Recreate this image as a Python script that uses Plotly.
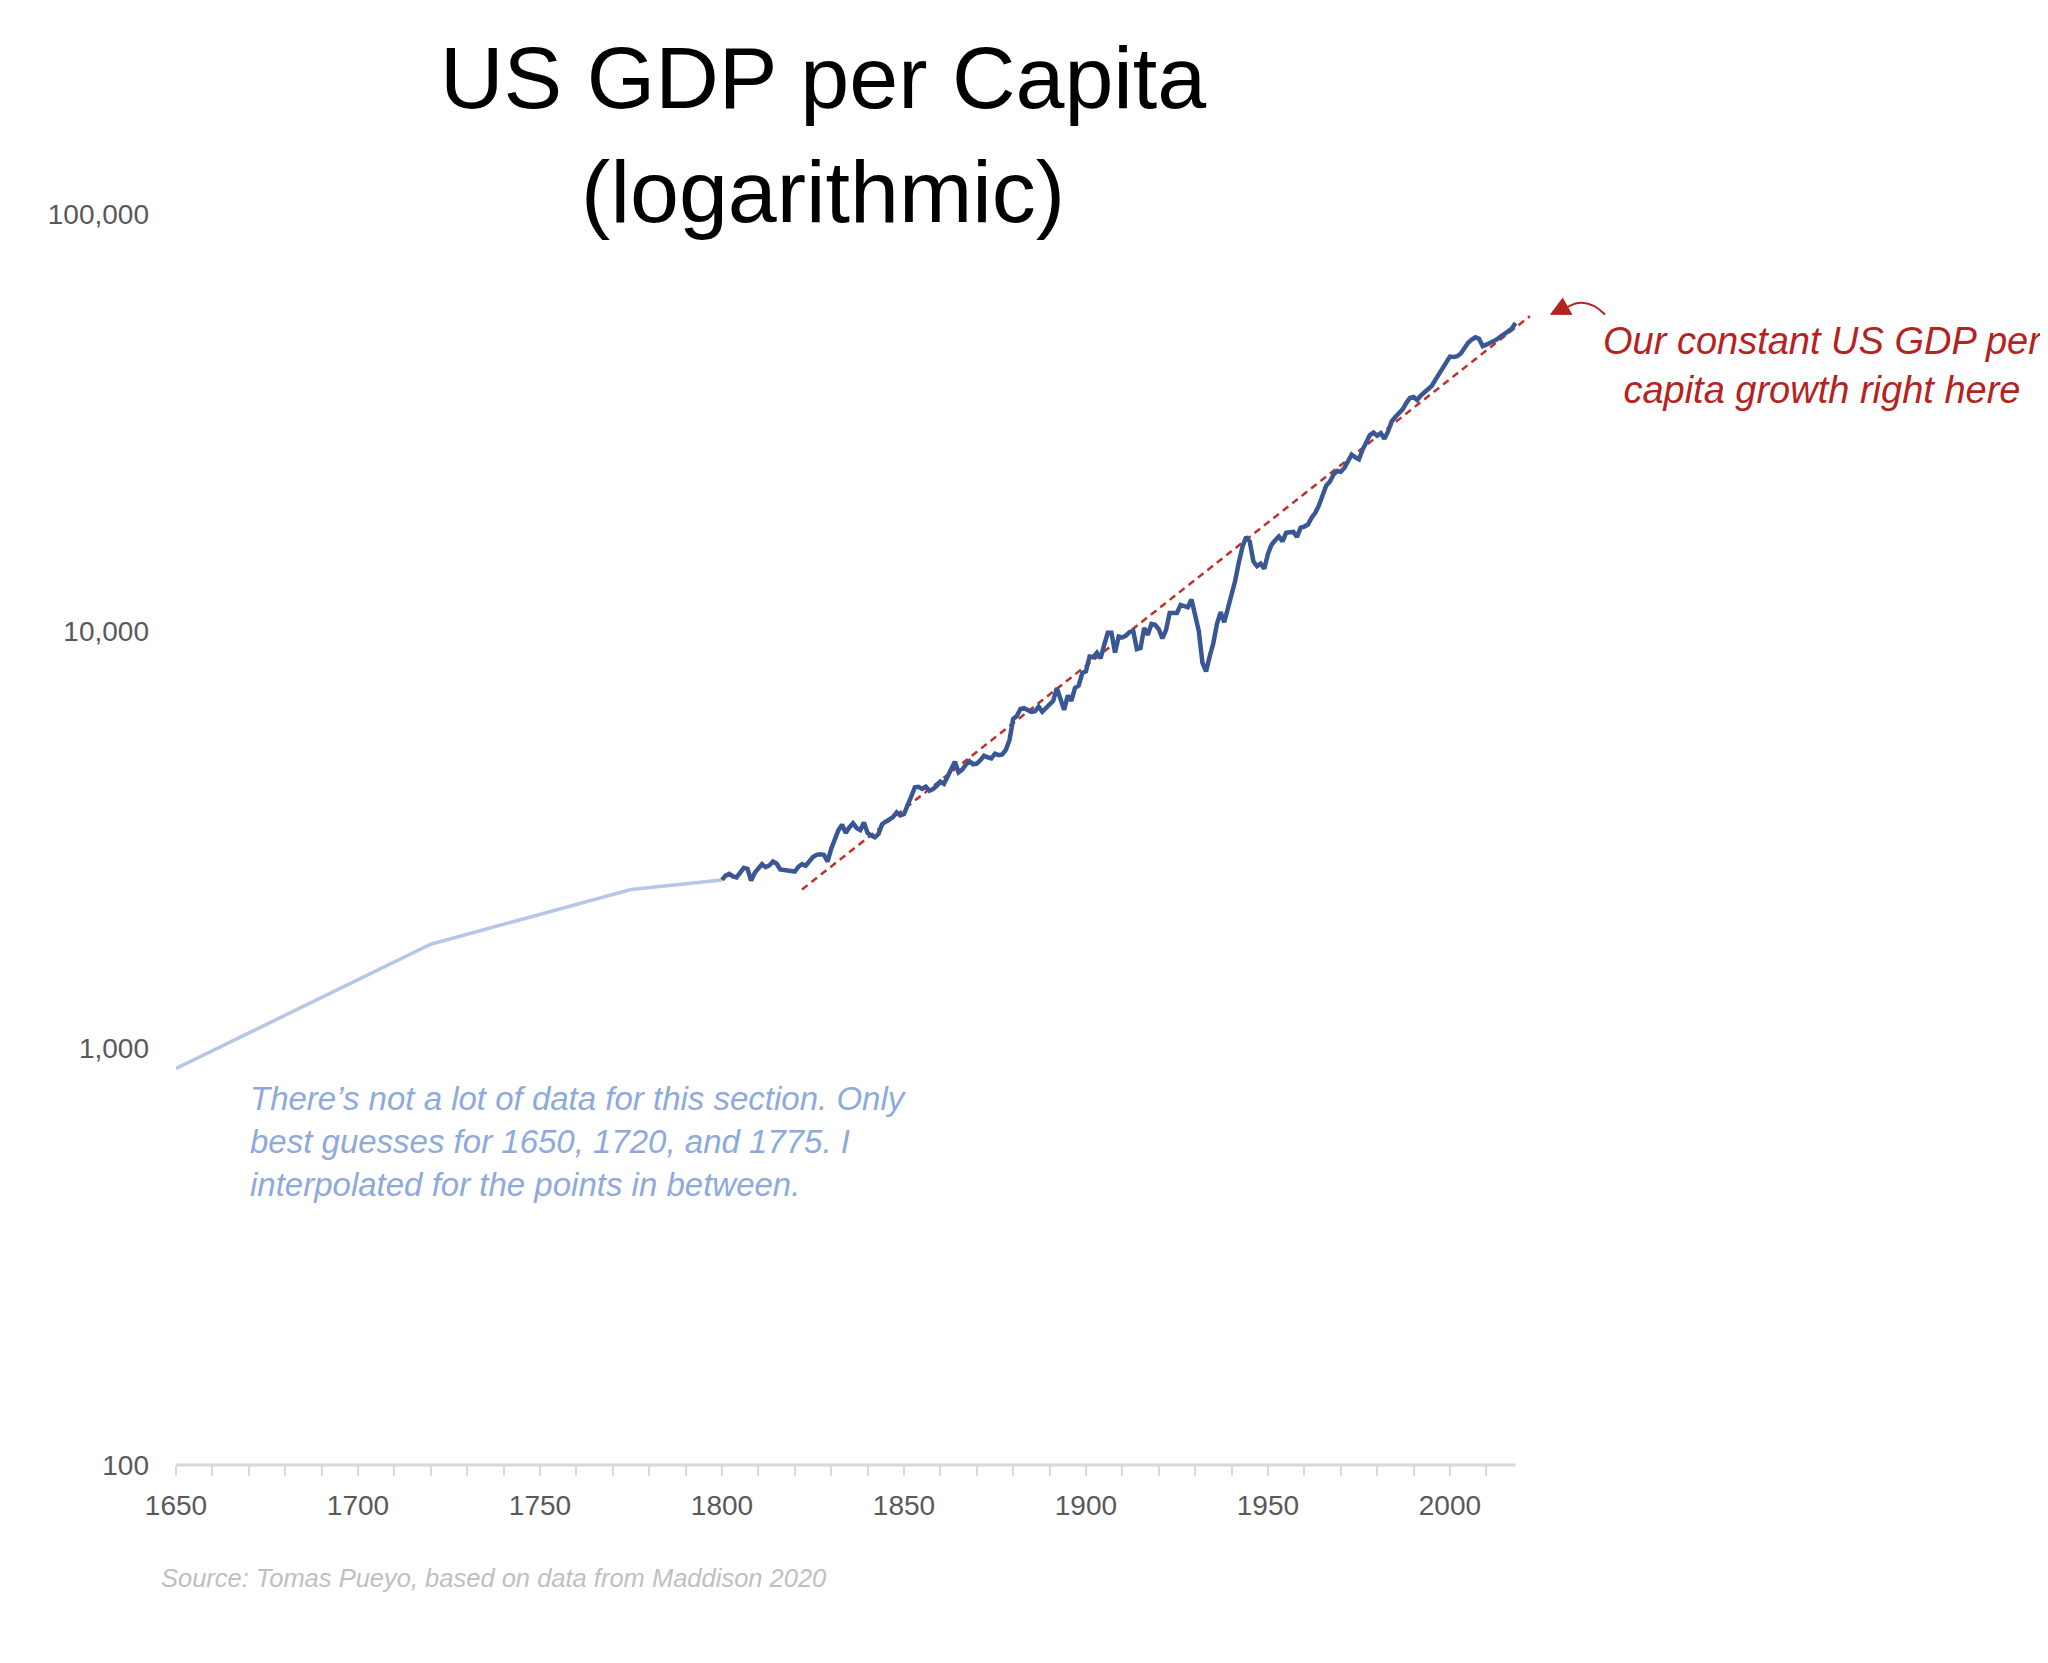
import plotly.graph_objects as go

# Frühe Schätzwerte (1650, 1720, 1775) plus Anschluss an 1800
early_years = [1650, 1720, 1775, 1800]
early_gdp = [893, 1774, 2399, 2530]

# Jährliche Werte 1800-2018
years = list(range(1800, 2019))
gdp = [
    2530, 2590, 2615, 2580, 2565, 2640, 2705, 2690, 2520, 2630,  # 1800
    2700, 2760, 2715, 2740, 2800, 2770, 2680, 2670, 2677, 2665,  # 1810
    2650, 2720, 2760, 2735, 2810, 2870, 2905, 2915, 2905, 2800,  # 1820
    3000, 3190, 3330, 3430, 3280, 3380, 3460, 3370, 3330, 3473,  # 1830
    3280, 3230, 3200, 3260, 3440, 3490, 3525, 3580, 3670, 3610,  # 1840
    3640, 3800, 4010, 4220, 4230, 4180, 4235, 4140, 4180, 4250,  # 1850
    4350, 4300, 4480, 4700, 4860, 4580, 4650, 4780, 4870, 4790,  # 1860
    4810, 4900, 5020, 4980, 4950, 5080, 5040, 5060, 5190, 5480,  # 1870
    6150, 6250, 6500, 6530, 6450, 6400, 6420, 6590, 6400, 6550,  # 1880
    6680, 6800, 7300, 6900, 6470, 7000, 6800, 7300, 7400, 7930,  # 1890
    8000, 8680, 8650, 8870, 8600, 9250, 9900, 9900, 8880, 9700,  # 1900
    9650, 9750, 9950, 10000, 9050, 9100, 10170, 9790, 10400, 10350,  # 1910
    10100, 9600, 10050, 11050, 11050, 11050, 11550, 11450, 11400, 11900,  # 1920
    10900, 10000, 8400, 8000, 8700, 9350, 10400, 11100, 10500, 11300,  # 1930
    12300, 13200, 14600, 15900, 16800, 16400, 14700, 14300, 14500, 14100,  # 1940
    15300, 16100, 16500, 16850, 16400, 17200, 17250, 17280, 16800, 17700,  # 1950
    17800, 18000, 18700, 19200, 20000, 21100, 22300, 22800, 23700, 24200,  # 1960
    24100, 24600, 25600, 26500, 26100, 25800, 27200, 28500, 29500, 29900,  # 1970
    29400, 29800, 28900, 30100, 31800, 32600, 33400, 34000, 35200, 36200,  # 1980
    36400, 35800, 36700, 37300, 38200, 38700, 40000, 41300, 42700, 44200,  # 1990
    45500, 45400, 45600, 46300, 47800, 49100, 50000, 50600, 50200, 48200,  # 2000
    48600, 49000, 49600, 50100, 50900, 51800, 52300, 53100, 54800,  # 2010
]

# Konstante Wachstumslinie (rot gestrichelt)
trend_years = [1822, 2022]
trend_gdp = [2400, 56900]

y_ticks = [100, 1000, 10000, 100000]
y_labels = ["100", "1,000", "10,000", "100,000"]
x_ticks = list(range(1650, 2020, 10))
x_labels = [str(y) if y % 50 == 0 else "" for y in x_ticks]

FONT = "Liberation Sans, Arial, sans-serif"
RED = "#b5231f"

fig = go.Figure()

fig.add_trace(go.Scatter(
    x=early_years, y=early_gdp, mode="lines",
    line=dict(color="#b4c7e7", width=3.5), showlegend=False, hoverinfo="skip"
))
fig.add_trace(go.Scatter(
    x=trend_years, y=trend_gdp, mode="lines",
    line=dict(color="#c0302a", width=2.5, dash="7px,5px"), showlegend=False, hoverinfo="skip"
))
fig.add_trace(go.Scatter(
    x=years, y=gdp, mode="lines",
    line=dict(color="#3a5795", width=4.5), showlegend=False
))

# X-Achsenlinie nur bis zum letzten Datenjahr
fig.add_shape(type="line", xref="x", yref="paper", x0=1650, x1=2018, y0=0, y1=0,
              line=dict(color="#d9d9d9", width=3))

# Gebogener Pfeil zur Notiz
fig.add_shape(type="path", xref="paper", yref="paper",
              path="M 1.0250 0.9257 Q 1.0383 0.9345 1.0523 0.9197",
              line=dict(color=RED, width=2))
fig.add_shape(type="path", xref="paper", yref="paper",
              path="M 1.0211 0.9326 L 1.0123 0.9198 L 1.0278 0.9198 Z",
              line=dict(color=RED, width=1), fillcolor=RED)

fig.update_layout(
    width=2048, height=1663,
    paper_bgcolor="white", plot_bgcolor="white",
    margin=dict(l=168, r=522, t=206, b=206),
    font=dict(family=FONT, color="#595959"),
    showlegend=False,
)

fig.update_xaxes(
    range=[1650, 2023.1], showgrid=False, zeroline=False, showline=False,
    tickmode="array", tickvals=x_ticks, ticktext=x_labels,
    ticks="outside", ticklen=10, tickwidth=2, tickcolor="#d9d9d9",
    tickfont=dict(size=28, color="#595959", family=FONT), ticklabelstandoff=5,
)
fig.update_yaxes(
    type="log", range=[2, 5], showgrid=False, zeroline=False, showline=False,
    tickmode="array", tickvals=y_ticks, ticktext=y_labels, ticks="",
    tickfont=dict(size=28, color="#595959", family=FONT), ticklabelstandoff=26,
)

# Titel
fig.add_annotation(
    text="US GDP per Capita<br>(logarithmic)", xref="paper", yref="paper",
    x=0.4764, y=1.0632, xanchor="center", yanchor="middle", showarrow=False,
    font=dict(size=88, color="black", family=FONT), align="center"
)

# Rote Notiz
fig.add_annotation(
    text="<i>Our constant US GDP per<br>capita growth right here</i>", xref="paper", yref="paper",
    x=1.2121, y=0.8785, xanchor="center", yanchor="middle", showarrow=False,
    font=dict(size=38, color=RED, family=FONT), align="center"
)

# Blaue Notiz
fig.add_annotation(
    text="<i>There’s not a lot of data for this section. Only<br>"
         "best guesses for 1650, 1720, and 1775. I<br>"
         "interpolated for the points in between.</i>",
    xref="paper", yref="paper", x=0.053, y=0.2582, xanchor="left", yanchor="middle",
    showarrow=False, align="left", font=dict(size=33, color="#8eaadb", family=FONT)
)

# Quelle
fig.add_annotation(
    text="<i>Source: Tomas Pueyo, based on data from Maddison 2020</i>",
    xref="paper", yref="paper", x=-0.0125, y=-0.0903, xanchor="left", yanchor="middle",
    showarrow=False, font=dict(size=25.5, color="#bfbfbf", family=FONT)
)

fig.write_html("out.html")
